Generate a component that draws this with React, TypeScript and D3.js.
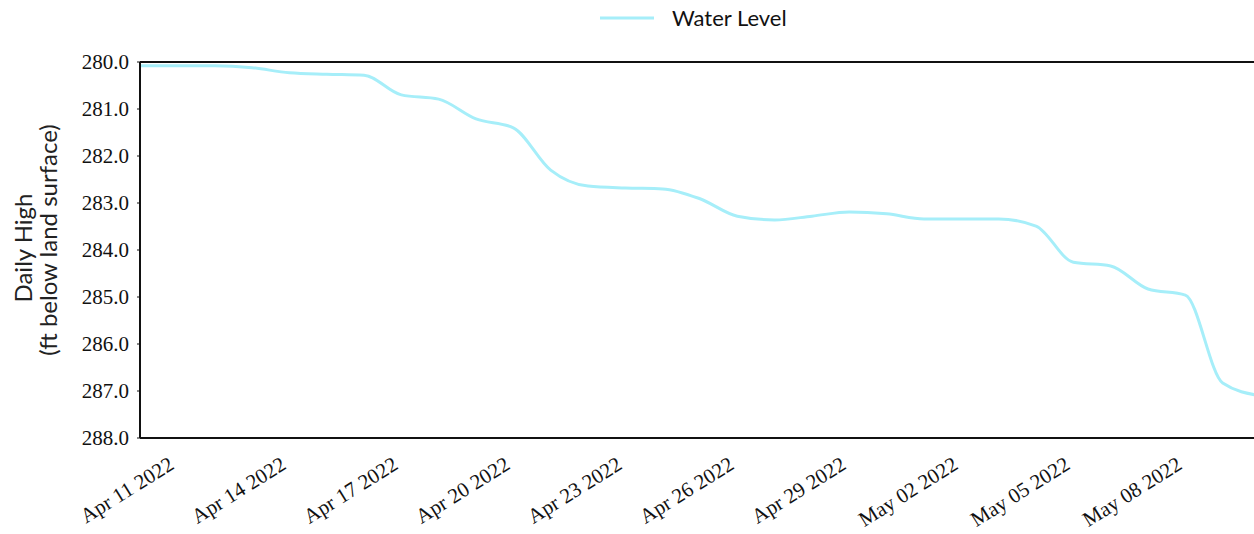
import React, { useEffect, useRef } from 'react';
import * as d3 from 'd3';

// daily high water level, ft below land surface (Apr 10 - May 10 2022)
const dates = [
  '2022-04-10', '2022-04-11', '2022-04-12', '2022-04-13', '2022-04-14', '2022-04-15',
  '2022-04-16', '2022-04-17', '2022-04-18', '2022-04-19', '2022-04-20', '2022-04-21',
  '2022-04-22', '2022-04-23', '2022-04-24', '2022-04-25', '2022-04-26', '2022-04-27',
  '2022-04-28', '2022-04-29', '2022-04-30', '2022-05-01', '2022-05-02', '2022-05-03',
  '2022-05-04', '2022-05-05', '2022-05-06', '2022-05-07', '2022-05-08', '2022-05-09',
  '2022-05-10',
];
const levels = [
  280.08, 280.08, 280.08, 280.12, 280.23, 280.26,
  280.28, 280.7, 280.79, 281.21, 281.4, 282.3,
  282.64, 282.68, 282.7, 282.91, 283.28, 283.36,
  283.28, 283.19, 283.23, 283.34, 283.34, 283.34,
  283.49, 284.26, 284.34, 284.83, 284.96, 286.83,
  287.1,
];
const tickDates = [
  '2022-04-11', '2022-04-14', '2022-04-17', '2022-04-20', '2022-04-23', '2022-04-26',
  '2022-04-29', '2022-05-02', '2022-05-05', '2022-05-08',
];
const yTicks = [280, 281, 282, 283, 284, 285, 286, 287, 288];

const W = 1254;
const H = 534;
const SERIF = '"Liberation Serif", serif';
const SANS = 'Lato, sans-serif';
const LINE = '#a6eef9';

export default function App() {
  const ref = useRef<SVGSVGElement | null>(null);

  useEffect(() => {
    const svg = d3.select(ref.current);
    svg.selectAll('*').remove();

    const left = 140;
    const right = 1260;
    const top = 62;
    const bottom = 438;
    const parse = d3.utcParse('%Y-%m-%d');
    const data = dates.map((d, i) => ({ t: parse(d) as Date, v: levels[i] }));

    const x = d3
      .scaleUtc()
      .domain([data[0].t, data[data.length - 1].t])
      .range([left, right]);
    const y = d3.scaleLinear().domain([280, 288]).range([top, bottom]);

    svg
      .append('defs')
      .append('clipPath')
      .attr('id', 'plot')
      .append('rect')
      .attr('x', left)
      .attr('y', top)
      .attr('width', right - left)
      .attr('height', bottom - top);

    svg
      .append('path')
      .datum(data)
      .attr('clip-path', 'url(#plot)')
      .attr('fill', 'none')
      .attr('stroke', LINE)
      .attr('stroke-width', 3)
      .attr('stroke-linejoin', 'round')
      .attr(
        'd',
        d3
          .line<{ t: Date; v: number }>()
          .x((d) => x(d.t))
          .y((d) => y(d.v))
          .curve(d3.curveMonotoneX),
      );

    // frame
    const frame = svg.append('g').attr('stroke', '#111').attr('stroke-width', 2);
    frame.append('line').attr('x1', left).attr('x2', right).attr('y1', top).attr('y2', top);
    frame.append('line').attr('x1', left).attr('x2', right).attr('y1', bottom).attr('y2', bottom);
    frame.append('line').attr('x1', left).attr('x2', left).attr('y1', top).attr('y2', bottom);

    // y ticks
    const yg = svg.append('g').attr('font-family', SERIF).attr('font-size', 21).attr('fill', '#111');
    yTicks.forEach((v) => {
      yg.append('text')
        .attr('x', 129)
        .attr('y', y(v))
        .attr('dy', '0.35em')
        .attr('text-anchor', 'end')
        .text(v.toFixed(1));
      svg
        .append('line')
        .attr('x1', left - 3)
        .attr('x2', left)
        .attr('y1', y(v))
        .attr('y2', y(v))
        .attr('stroke', '#111');
    });

    // x ticks
    const fmt = d3.utcFormat('%b %d %Y');
    const xg = svg.append('g').attr('font-family', SERIF).attr('font-size', 21).attr('fill', '#111');
    tickDates.forEach((d) => {
      const tx = x(parse(d) as Date) - 2;
      xg.append('text')
        .attr('transform', `translate(${tx},${bottom + 30}) rotate(-32)`)
        .attr('text-anchor', 'end')
        .text(fmt(parse(d) as Date));
    });

    // y title
    const tg = svg
      .append('g')
      .attr('font-family', SANS)
      .attr('font-size', 24)
      .attr('fill', '#222')
      .attr('text-anchor', 'middle');
    tg.append('text').attr('transform', 'translate(32,248) rotate(-90)').text('Daily High');
    tg.append('text')
      .attr('transform', 'translate(57,240) rotate(-90)')
      .text('(ft below land surface)');

    // legend
    svg
      .append('line')
      .attr('x1', 600)
      .attr('x2', 654)
      .attr('y1', 18)
      .attr('y2', 18)
      .attr('stroke', LINE)
      .attr('stroke-width', 3);
    svg
      .append('text')
      .attr('x', 672)
      .attr('y', 26)
      .attr('font-family', SANS)
      .attr('font-size', 22)
      .attr('fill', '#111')
      .text('Water Level');
  }, []);

  return (
    <div style={{ position: 'absolute', left: 0, top: 0, width: W, height: H, background: '#fff' }}>
      <svg ref={ref} width={W} height={H} style={{ display: 'block' }} />
    </div>
  );
}
